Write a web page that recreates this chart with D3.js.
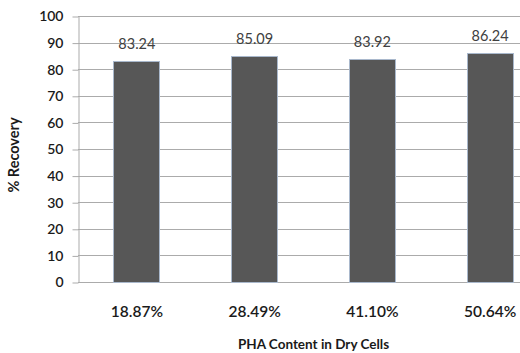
<!DOCTYPE html>
<html>
<head>
<meta charset="utf-8">
<script src="https://cdn.jsdelivr.net/npm/d3@7"></script>
<style>
  html, body { margin: 0; padding: 0; background: #ffffff; }
  svg { display: block; }
  text { font-family: Lato, "Open Sans", sans-serif; }
</style>
</head>
<body>
<script>
// PHA content (share of dry cell mass) and the recovery reached for each
const categories = ["18.87%", "28.49%", "41.10%", "50.64%"];
const recovery = [83.24, 85.09, 83.92, 86.24];
const yTicks = [0, 10, 20, 30, 40, 50, 60, 70, 80, 90, 100];

const width = 520, height = 353;
const svg = d3.select("body").append("svg")
  .attr("width", width)
  .attr("height", height);

const plot = { left: 78, right: 549, top: 16, bottom: 282 };

const x = d3.scaleBand()
  .domain(categories)
  .range([plot.left, plot.right])
  .paddingInner(0.6)
  .paddingOuter(0.3);

const y = d3.scaleLinear()
  .domain([0, 100])
  .range([plot.bottom, plot.top]);

// horizontal gridlines
svg.append("g")
  .selectAll("line")
  .data(yTicks)
  .join("line")
  .attr("x1", plot.left)
  .attr("x2", plot.right)
  .attr("y1", d => Math.round(y(d)) + 0.5)
  .attr("y2", d => Math.round(y(d)) + 0.5)
  .attr("stroke", "#ababab")
  .attr("stroke-width", 1);

// y axis with outward ticks
const yAxis = svg.append("g")
  .attr("transform", `translate(${plot.left + 0.5},0.5)`)
  .call(d3.axisLeft(y).tickValues(yTicks).tickSize(6).tickPadding(9).tickSizeOuter(0));
yAxis.select(".domain").attr("stroke", "#ababab");
yAxis.selectAll(".tick line").attr("stroke", "#ababab");
yAxis.selectAll(".tick text")
  .attr("fill", "#1a1a1a")
  .style("font-size", "14px")
  .style("font-weight", "600")
  .style("font-family", "Lato, sans-serif");

// bars
svg.append("g")
  .selectAll("rect")
  .data(recovery)
  .join("rect")
  .attr("x", (d, i) => Math.round(x(categories[i])) + 0.5)
  .attr("y", d => Math.round(y(d)) + 0.5)
  .attr("width", Math.round(x.bandwidth()) - 1)
  .attr("height", d => Math.round(y(0)) - Math.round(y(d)))
  .attr("fill", "#575757")
  .attr("stroke", "#a9b8cc")
  .attr("stroke-width", 1);

// value labels above bars
svg.append("g")
  .selectAll("text")
  .data(recovery)
  .join("text")
  .attr("x", (d, i) => x(categories[i]) + x.bandwidth() / 2)
  .attr("y", d => y(d) - 12)
  .attr("text-anchor", "middle")
  .attr("fill", "#404040")
  .style("font-size", "14.5px")
  .text(d => d.toFixed(2));

// category labels
svg.append("g")
  .selectAll("text")
  .data(categories)
  .join("text")
  .attr("x", d => x(d) + x.bandwidth() / 2)
  .attr("y", 317)
  .attr("text-anchor", "middle")
  .attr("fill", "#1a1a1a")
  .style("font-size", "15.5px")
  .style("font-weight", "600")
  .text(d => d);

// axis titles
svg.append("text")
  .attr("x", (plot.left + plot.right) / 2)
  .attr("y", 349)
  .attr("text-anchor", "middle")
  .attr("fill", "#1a1a1a")
  .style("font-size", "13.5px")
  .style("font-weight", "bold")
  .text("PHA Content in Dry Cells");

svg.append("text")
  .attr("transform", `translate(19,155) rotate(-90)`)
  .attr("text-anchor", "middle")
  .attr("fill", "#1a1a1a")
  .style("font-size", "14.5px")
  .style("font-weight", "bold")
  .text("% Recovery");
</script>
</body>
</html>
